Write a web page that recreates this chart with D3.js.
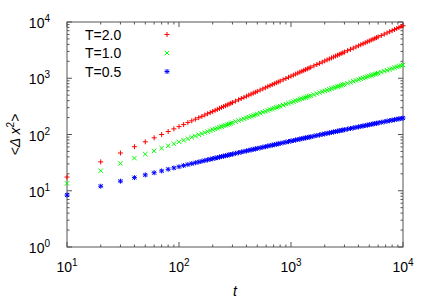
<!DOCTYPE html>
<html>
  <head>
    <script src="https://d3js.org/d3.v7.min.js"></script>
    <style>
      body { margin: 0; background: #fff; }
      text { font-family: "Liberation Sans", Arial, sans-serif; fill: #000; }
    </style>
  </head>
  <body>
    <div id="chart"></div>
    <script>
      // sample times and mean square displacement per temperature
      const times = [10, 20, 30, 40, 50, 60, 70, 80, 90, 100, 110, 120, 130, 140, 150, 160, 170, 180, 190, 200,
        210, 220, 230, 240, 250, 260, 270, 280, 290, 300,
        320, 340, 360, 380, 400, 420, 440, 460, 480, 500,
        530, 560, 590, 620, 650, 680, 710, 740, 770, 800,
        850, 900, 950, 1000, 1050, 1100, 1150, 1200, 1250, 1300, 1350, 1400, 1450, 1500,
        1600, 1700, 1800, 1900, 2000, 2100, 2200, 2300, 2400, 2500, 2600, 2700, 2800, 2900, 3000,
        3200, 3400, 3600, 3800, 4000, 4200, 4400, 4600, 4800, 5000, 5200, 5400, 5600, 5800, 6000,
        6400, 6800, 7200, 7600, 8000, 8400, 8800, 9200, 9600, 10000];

      const msdT20 = [17.5, 32.6, 46.9, 60.7, 74.1, 87.3, 100, 113, 126, 138, 150, 163, 175, 187, 199, 210, 222, 234, 245, 257,
        269, 280, 291, 303, 314, 325, 336, 348, 359, 370,
        392, 414, 436, 457, 479, 500, 522, 543, 564, 585,
        616, 647, 678, 709, 740, 771, 801, 831, 861, 891,
        941, 991, 1040, 1089, 1138, 1186, 1235, 1283, 1331, 1378, 1426, 1473, 1520, 1567,
        1660, 1753, 1844, 1937, 2028, 2119, 2209, 2300, 2389, 2478, 2567, 2655, 2742, 2830, 2917,
        3091, 3264, 3435, 3607, 3777, 3945, 4113, 4281, 4447, 4613, 4778, 4944, 5108, 5271, 5434,
        5758, 6080, 6398, 6717, 7033, 7350, 7663, 7975, 8285, 8591];

      const msdT10 = [13.5, 22.7, 30.7, 38.0, 44.7, 51.1, 57.1, 63.0, 68.6, 74.0, 79.2, 84.3, 89.3, 94.2, 98.9, 103.6, 108.2, 112.6, 117.0, 121.4,
        125.7, 129.9, 134.0, 138.1, 142.2, 146.1, 150.1, 154.0, 157.8, 161.6,
        169.1, 176.5, 183.7, 190.8, 197.8, 204.6, 211.4, 218.0, 224.6, 231.0,
        240.5, 249.9, 259.1, 268.1, 277.0, 285.8, 294.4, 302.9, 311.3, 319.6,
        333.2, 346.5, 359.6, 372.4, 385.1, 397.5, 409.7, 421.7, 433.6, 445.3, 456.8, 468.3, 479.6, 490.7,
        512.6, 534.1, 555.1, 575.6, 595.8, 615.7, 635.2, 654.5, 673.4, 692.0, 710.4, 728.6, 746.5, 764.2, 781.6,
        815.9, 849.4, 882.2, 914.4, 946.0, 977.0, 1007, 1037, 1067, 1096, 1124, 1152, 1181, 1208, 1235,
        1288, 1341, 1391, 1441, 1490, 1538, 1585, 1631, 1677, 1722];

      const msdT05 = [8.39, 12.04, 14.81, 17.11, 19.11, 20.90, 22.54, 24.06, 25.47, 26.79, 28.04, 29.23, 30.36, 31.45, 32.49, 33.49, 34.46, 35.39, 36.30, 37.18,
        38.03, 38.86, 39.67, 40.46, 41.23, 41.98, 42.71, 43.43, 44.14, 44.83,
        46.17, 47.46, 48.71, 49.91, 51.09, 52.22, 53.33, 54.40, 55.45, 56.46,
        57.95, 59.39, 60.78, 62.13, 63.44, 64.71, 65.95, 67.16, 68.34, 69.49,
        71.35, 73.14, 74.87, 76.56, 78.19, 79.77, 81.31, 82.80, 84.26, 85.68, 87.07, 88.43, 89.76, 91.06,
        93.58, 96.00, 98.34, 100.6, 102.8, 104.9, 106.9, 108.9, 110.9, 112.7, 114.6, 116.4, 118.1, 119.8, 121.5,
        124.8, 127.9, 130.9, 133.8, 136.6, 139.3, 141.9, 144.4, 146.9, 149.3, 151.7, 154.0, 156.2, 158.4, 160.6,
        164.7, 168.7, 172.5, 176.2, 179.8, 183.2, 186.5, 189.7, 192.8, 195.9];

      const seriesNames = ["T=2.0", "T=1.0", "T=0.5"];
      const xDecades = [1, 2, 3, 4];
      const yDecades = [0, 1, 2, 3, 4];

      const W = 436, H = 305;
      const plot = { left: 67, right: 403, top: 22, bottom: 247 };

      const svg = d3.select("#chart").append("svg")
        .attr("width", W).attr("height", H);

      const x = d3.scaleLog().domain([10, 1e4]).range([plot.left, plot.right]);
      const y = d3.scaleLog().domain([1, 1e4]).range([plot.bottom, plot.top]);

      // minor ticks 2..9 in each decade
      const minor = (decs) => {
        const out = [];
        decs.slice(0, -1).forEach(d => { for (let k = 2; k <= 9; k++) out.push(k * Math.pow(10, d)); });
        return out;
      };
      const xMajor = xDecades.map(d => Math.pow(10, d));
      const yMajor = yDecades.map(d => Math.pow(10, d));

      const axisColor = "#555";
      const ticks = svg.append("g").attr("stroke", axisColor).attr("stroke-width", 1);
      const tick = (x1, y1, x2, y2) => ticks.append("line")
        .attr("x1", x1).attr("y1", y1).attr("x2", x2).attr("y2", y2);

      const majLen = 5, minLen = 2.5;
      xMajor.forEach(v => { tick(x(v), plot.bottom, x(v), plot.bottom - majLen); tick(x(v), plot.top, x(v), plot.top + majLen); });
      minor(xDecades).forEach(v => { tick(x(v), plot.bottom, x(v), plot.bottom - minLen); tick(x(v), plot.top, x(v), plot.top + minLen); });
      yMajor.forEach(v => { tick(plot.left, y(v), plot.left + majLen, y(v)); tick(plot.right, y(v), plot.right - majLen, y(v)); });
      minor(yDecades).forEach(v => { tick(plot.left, y(v), plot.left + minLen, y(v)); tick(plot.right, y(v), plot.right - minLen, y(v)); });

      // border
      svg.append("rect")
        .attr("x", plot.left).attr("y", plot.top)
        .attr("width", plot.right - plot.left).attr("height", plot.bottom - plot.top)
        .attr("fill", "none").attr("stroke", axisColor).attr("stroke-width", 1);

      // tick labels, 10^n
      const powLabel = (g, n) => {
        g.append("tspan").text("10");
        g.append("tspan").attr("dy", -6).attr("font-size", 10).text(n);
      };
      xDecades.forEach(d => {
        const t = svg.append("text").attr("x", x(Math.pow(10, d))).attr("y", 272)
          .attr("text-anchor", "middle").attr("font-size", 14);
        powLabel(t, d);
      });
      yDecades.forEach(d => {
        const t = svg.append("text").attr("x", 50).attr("y", y(Math.pow(10, d)) + 6)
          .attr("text-anchor", "end").attr("font-size", 14);
        powLabel(t, d);
      });

      // axis titles
      svg.append("text").attr("x", (plot.left + plot.right) / 2).attr("y", 296)
        .attr("text-anchor", "middle").attr("font-size", 14).attr("font-style", "italic").text("t");

      const yl = svg.append("text")
        .attr("transform", `translate(20, ${(plot.top + plot.bottom) / 2}) rotate(-90)`)
        .attr("text-anchor", "middle").attr("font-size", 14);
      yl.append("tspan").text("<");
      yl.append("tspan").attr("font-style", "italic").text("Δ x");
      yl.append("tspan").attr("dy", -6).attr("font-size", 10).text("2");
      yl.append("tspan").attr("dy", 6).text(">");

      // point symbols
      const plus = s => `M${-s},0H${s}M0,${-s}V${s}`;
      const cross = s => `M${-s},${-s}L${s},${s}M${-s},${s}L${s},${-s}`;
      const star = s => plus(s) + cross(s * 0.8);

      const series = [
        { name: seriesNames[0], values: msdT20, color: "#ff0000", sym: plus(2.5) },
        { name: seriesNames[1], values: msdT10, color: "#00ff00", sym: cross(2.2) },
        { name: seriesNames[2], values: msdT05, color: "#0000ff", sym: star(2.5) }
      ];

      series.forEach(s => {
        svg.append("g").selectAll("path")
          .data(times.map((t, i) => [t, s.values[i]]))
          .enter().append("path")
          .attr("transform", d => `translate(${x(d[0])},${y(d[1])})`)
          .attr("d", s.sym)
          .attr("fill", "none").attr("stroke", s.color).attr("stroke-width", 1);
      });

      // key
      const keyRows = [34.5, 53, 71.5];
      series.forEach((s, i) => {
        svg.append("text").attr("x", 85).attr("y", keyRows[i] + 5)
          .attr("font-size", 14).text(s.name);
        svg.append("path").attr("transform", `translate(167,${keyRows[i]})`)
          .attr("d", s.sym).attr("fill", "none").attr("stroke", s.color).attr("stroke-width", 1);
      });
    </script>
  </body>
</html>
